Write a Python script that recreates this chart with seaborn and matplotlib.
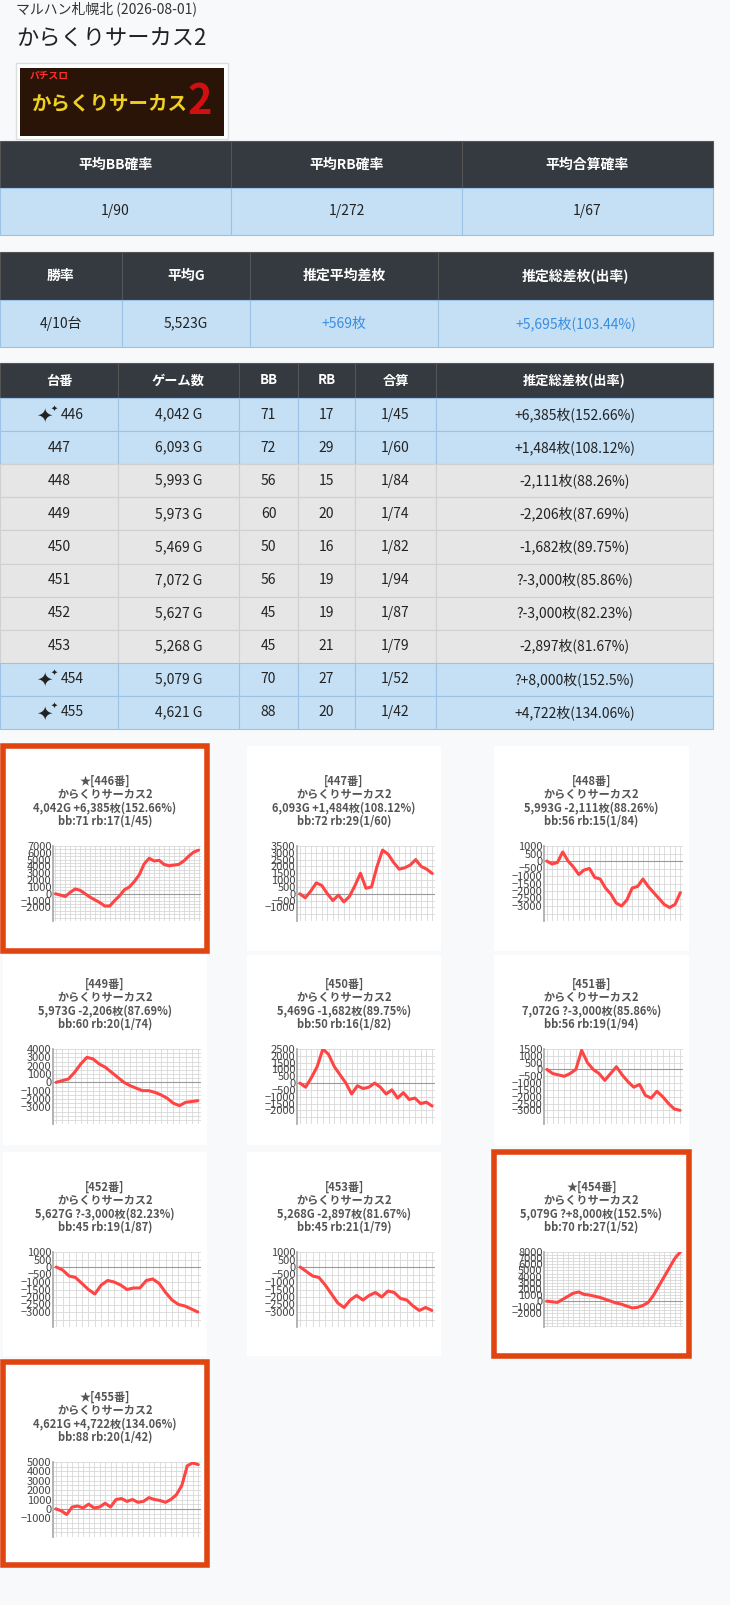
import matplotlib
matplotlib.use("Agg")
import matplotlib.pyplot as plt
import seaborn as sns
import pandas as pd
from matplotlib.patches import Rectangle

sns.set_theme(style="white")
plt.rcParams['font.family'] = ['Noto Sans CJK JP', 'DejaVu Sans']

W, H = 730, 1605

summary1_head = ['平均BB確率', '平均RB確率', '平均合算確率']
summary1_vals = ['1/90', '1/272', '1/67']
summary2_head = ['勝率', '平均G', '推定平均差枚', '推定総差枚(出率)']
summary2_vals = ['4/10台', '5,523G', '+569枚', '+5,695枚(103.44%)']

machines = ['446', '447', '448', '449', '450', '451', '452', '453', '454', '455']
games = ['4,042 G', '6,093 G', '5,993 G', '5,973 G', '5,469 G', '7,072 G', '5,627 G', '5,268 G', '5,079 G', '4,621 G']
bb = [71, 72, 56, 60, 50, 56, 45, 45, 70, 88]
rb = [17, 29, 15, 20, 16, 19, 19, 21, 27, 20]
total = ['1/45', '1/60', '1/84', '1/74', '1/82', '1/94', '1/87', '1/79', '1/52', '1/42']
diff = ['+6,385枚(152.66%)', '+1,484枚(108.12%)', '-2,111枚(88.26%)', '-2,206枚(87.69%)',
        '-1,682枚(89.75%)', '?-3,000枚(85.86%)', '?-3,000枚(82.23%)', '-2,897枚(81.67%)',
        '?+8,000枚(152.5%)', '+4,722枚(134.06%)']
good = ['446', '454', '455']
blue_rows = ['446', '447', '454', '455']

series = {
    '446': [0, -200, -400, 200, 700, 500, 0, -500, -900, -1300, -1800, -1800, -1000, -300, 600, 1000,
            1800, 2800, 4400, 5200, 4800, 4900, 4300, 4100, 4200, 4300, 4800, 5500, 6100, 6385],
    '447': [0, -300, 200, 800, 600, 0, -500, -100, -600, -200, 600, 1500, 400, 500, 2000, 3200, 2900,
            2300, 1800, 1900, 2100, 2500, 2000, 1800, 1484],
    '448': [0, -200, -100, 600, 0, -400, -900, -600, -500, -1100, -1200, -1800, -2200, -2800, -3000,
            -2600, -1800, -1700, -1200, -1700, -2100, -2500, -2900, -3100, -2900, -2111],
    '449': [0, 200, 400, 1200, 2200, 3000, 2800, 2200, 1800, 1200, 600, 0, -400, -700, -1000, -1000,
            -1200, -1500, -1900, -2500, -2800, -2400, -2300, -2206],
    '450': [0, -300, 400, 1200, 2500, 2100, 1200, 600, 0, -800, -200, -400, -300, 0, -300, -800, -500,
            -1100, -700, -1200, -1100, -1500, -1400, -1682],
    '451': [0, -300, -400, -500, -300, 0, 1400, 500, 0, -300, -800, -300, 200, -400, -900, -1300, -1100,
            -1900, -2100, -1600, -2000, -2500, -2900, -3000],
    '452': [0, -200, -600, -700, -1100, -1500, -1800, -1200, -900, -1000, -1200, -1500, -1400, -1400,
            -900, -800, -1100, -1700, -2200, -2500, -2600, -2800, -3000],
    '453': [0, -300, -600, -700, -1200, -1800, -2400, -2700, -2200, -1900, -2200, -1900, -1700, -2000,
            -1600, -1700, -2100, -2200, -2600, -2900, -2700, -2897],
    '454': [0, -100, -200, 300, 800, 1300, 1500, 1100, 1000, 800, 600, 300, 0, -300, -500, -800, -1100,
            -1000, -700, -200, 1000, 2500, 4000, 5500, 7000, 8000],
    '455': [0, -200, -600, 200, 300, 100, 500, 100, 200, 600, 200, 1000, 1100, 800, 1000, 700, 800, 1200,
            1000, 900, 700, 1000, 1500, 2500, 4600, 4900, 4722],
}
yrange = {'446': (-2000, 7000, 1000), '447': (-1000, 3500, 500), '448': (-3000, 1000, 500),
          '449': (-3000, 4000, 1000), '450': (-2000, 2500, 500), '451': (-3000, 1500, 500),
          '452': (-3000, 1000, 500), '453': (-3000, 1000, 500), '454': (-2000, 8000, 1000),
          '455': (-1000, 5000, 1000)}

fig = plt.figure(figsize=(W / 100, H / 100), dpi=100)
fig.patch.set_facecolor('#f8f9fb')
bg = fig.add_axes([0, 0, 1, 1])
bg.set_xlim(0, W)
bg.set_ylim(H, 0)
bg.axis('off')

DARK = '#343a40'
BLUE = '#c5e0f5'
GRAY = '#e6e6e6'
EDGE = '#9cc3e6'


def cell(x0, x1, y0, y1, fc, txt, color='#222', bold=False, size=10, ec='#aaa'):
    bg.add_patch(Rectangle((x0, y0), x1 - x0, y1 - y0, fc=fc, ec=ec, lw=0.8))
    bg.text((x0 + x1) / 2, (y0 + y1) / 2, txt, ha='center', va='center', color=color,
            fontsize=size, fontweight='bold' if bold else 'normal')


bg.text(16, 9, 'マルハン札幌北 (2026-08-01)', fontsize=10, color='#333', va='center')
bg.text(16, 39, 'からくりサーカス2', fontsize=16, color='#222', va='center')
bg.add_patch(Rectangle((16, 63), 212, 76, fc='white', ec='#ddd', lw=1))
bg.add_patch(Rectangle((20, 68), 204, 68, fc='#2a1408', ec='none'))
bg.text(30, 76, 'パチスロ', fontsize=7, color='#ff3030', fontweight='bold', va='center')
bg.text(110, 104, 'からくりサーカス', fontsize=14, color='#f0d020', fontweight='bold', va='center', ha='center')
bg.text(200, 102, '2', fontsize=30, color='#d01010', fontweight='bold', va='center', ha='center')

# table 1
xs = [0, 231, 462, 713]
for i in range(3):
    cell(xs[i], xs[i + 1], 141, 188, DARK, summary1_head[i], 'white', True, 10, '#555')
    cell(xs[i], xs[i + 1], 188, 235, BLUE, summary1_vals[i], '#222', False, 10, EDGE)

# table 2
xs = [0, 122, 250, 438, 713]
for i in range(4):
    cell(xs[i], xs[i + 1], 252, 300, DARK, summary2_head[i], 'white', True, 10, '#555')
    col = '#3a8ee0' if i >= 2 else '#222'
    cell(xs[i], xs[i + 1], 300, 347, BLUE, summary2_vals[i], col, False, 10, EDGE)

# table 3
xs = [0, 118, 239, 298, 355, 436, 713]
heads = ['台番', 'ゲーム数', 'BB', 'RB', '合算', '推定総差枚(出率)']
for i in range(6):
    cell(xs[i], xs[i + 1], 363, 398, DARK, heads[i], 'white', True, 9.5, '#555')
rh = 33.1
for r, m in enumerate(machines):
    y0 = 398 + r * rh
    fc = BLUE if m in blue_rows else GRAY
    ec = EDGE if m in blue_rows else '#d0d0d0'
    vals = [m, games[r], str(bb[r]), str(rb[r]), total[r], diff[r]]
    for i in range(6):
        txt = vals[i]
        cell(xs[i], xs[i + 1], y0, y0 + rh, fc, '' if (i == 0 and m in good) else txt, '#222', False, 10, ec)
    if m in good:
        bg.text(44, y0 + rh / 2 + 1, '✦', fontsize=14, color='#222', ha='center', va='center')
        bg.text(54, y0 + rh / 2 - 7, '✦', fontsize=6, color='#222', ha='center', va='center')
        bg.text(72, y0 + rh / 2, m, fontsize=10, color='#222', ha='center', va='center')

# small charts
panel_x = [(3, 207), (247, 441), (494, 689)]
panel_y = [(746, 951), (955, 1145), (1152, 1356), (1362, 1565)]
for k, m in enumerate(machines):
    r, c = divmod(k, 3)
    x0, x1 = panel_x[c]
    y0, y1 = panel_y[r]
    if m in good:
        bg.add_patch(Rectangle((x0, y0), x1 - x0, y1 - y0, fc='white', ec='#e04410', lw=4))
    else:
        bg.add_patch(Rectangle((x0, y0), x1 - x0, y1 - y0, fc='white', ec='none'))
    cx = (x0 + x1) / 2
    ty = y0 + 35 if r != 1 else y0 + 29
    lines = [('★' if m in good else '') + f'[{m}番]', 'からくりサーカス2',
             f'{games[k].replace(" ", "")} {diff[k]}',
             f'bb:{bb[k]} rb:{rb[k]}({total[k]})']
    for j, ln in enumerate(lines):
        bg.text(cx, ty + j * 13.5, ln, fontsize=8, color='#555', fontweight='bold', ha='center', va='center')
    lo, hi, st = yrange[m]
    ay0 = ty + 65
    ay1 = ay0 + 75
    ax_l = x0 + 50
    ax_r = x1 - 6
    ax = fig.add_axes([ax_l / W, 1 - ay1 / H, (ax_r - ax_l) / W, (ay1 - ay0) / H])
    ax.set_facecolor('white')
    df = pd.DataFrame({'x': range(len(series[m])), 'y': series[m]})
    span = hi - lo
    ax.set_ylim(lo - 0.22 * span, hi)
    ax.set_xlim(-0.5, len(series[m]) - 0.5)
    ax.set_yticks(range(lo, hi + 1, st))
    ax.set_yticks(range(lo - 2 * st, hi + 1, st // 2 if st == 1000 else st), minor=True)
    ax.set_xticks(range(len(series[m])))
    ax.set_xticklabels([])
    ax.grid(True, which='both', color='#d8d8d8', lw=0.6)
    ax.axhline(0, color='#999', lw=0.8)
    sns.lineplot(data=df, x='x', y='y', ax=ax, color='#ff4444', lw=2.2)
    ax.set_xlabel('')
    ax.set_ylabel('')
    ax.tick_params(axis='y', labelsize=8, pad=1, length=0, labelcolor='#444')
    ax.tick_params(axis='x', length=0)
    for s in ['top', 'right', 'bottom']:
        ax.spines[s].set_visible(False)
    ax.spines['left'].set_color('#aaa')

fig.savefig('out.png', dpi=100, facecolor=fig.get_facecolor())
